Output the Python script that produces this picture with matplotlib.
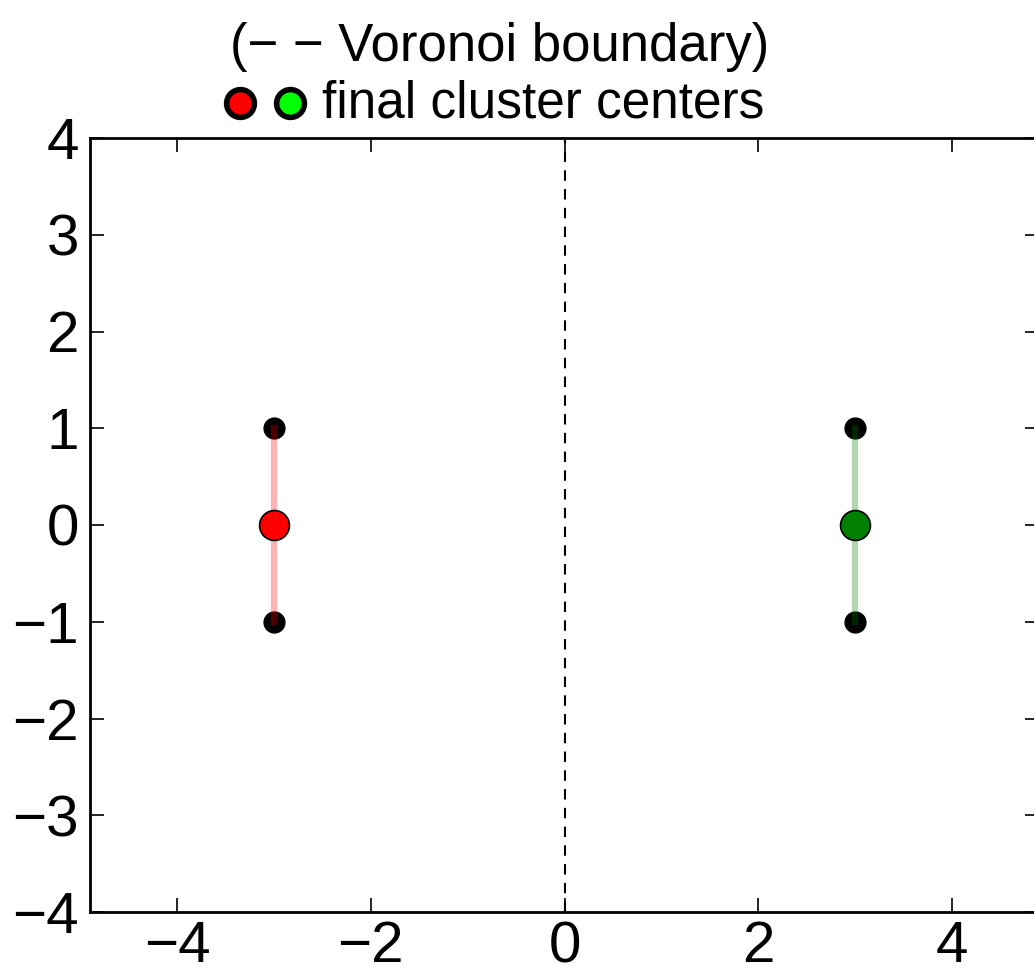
import matplotlib
matplotlib.use("Agg")
import matplotlib.pyplot as plt

# data
points_x = [-3, -3, 3, 3]
points_y = [1, -1, 1, -1]
center_x = [-3, 3]
center_y = [0, 0]
center_colors = ["red", "green"]
xticks = [-4, -2, 0, 2, 4]
yticks = [-4, -3, -2, -1, 0, 1, 2, 3, 4]
title_line1 = "(\u2212 \u2212 Voronoi boundary)"
title_line2 = "final cluster centers"

W, H = 1034, 972
fig = plt.figure(figsize=(W / 100, H / 100), dpi=100)
ax = fig.add_axes([90 / W, 60 / H, (1039 - 90) / W, (912 - 138) / H])

# Voronoi boundary
ax.axvline(0, color="black", linestyle="--", linewidth=1.5, dashes=(5, 4))

# data points
ax.plot(points_x, points_y, "o", color="black", markersize=15, zorder=2)

# lines from centers to points
for cx, cy, c in zip(center_x, center_y, center_colors):
    for px, py in zip(points_x, points_y):
        if px == cx:
            ax.plot([cx, px], [cy, py], color=c, alpha=0.3, linewidth=4.5, zorder=3)
    ax.plot([cx], [cy], "o", markerfacecolor=c, markeredgecolor="black",
            markeredgewidth=1.2, markersize=21.5, zorder=4)

ax.set_xlim(-4.9, 4.9)
ax.set_ylim(-4, 4)
ax.set_xticks(xticks)
ax.set_yticks(yticks)
ax.set_xticklabels([f"{t}".replace("-", "\u2212") for t in xticks])
ax.set_yticklabels([f"{t}".replace("-", "\u2212") for t in yticks])
ax.tick_params(direction="in", length=10, width=1.2, top=True, right=True,
               labelsize=42, pad=8)
ax.tick_params(axis="x", pad=6)
for lab in ax.get_xticklabels() + ax.get_yticklabels():
    lab.set_family(["Liberation Sans", "DejaVu Sans"])
for s in ax.spines.values():
    s.set_linewidth(2)

tfam = ["Liberation Sans", "DejaVu Sans"]
fig.text(500 / W, 1 - 47 / H, title_line1, ha="center", va="center",
         fontsize=38, family=tfam)
fig.text(322 / W, 1 - 104 / H, title_line2, ha="left", va="center",
         fontsize=37, family=tfam)
fig.lines.append(plt.Line2D([240 / W], [1 - 103 / H], marker="o", markersize=20,
                            markerfacecolor="red", markeredgecolor="black",
                            markeredgewidth=4, transform=fig.transFigure))
fig.lines.append(plt.Line2D([290 / W], [1 - 103 / H], marker="o", markersize=20,
                            markerfacecolor="lime", markeredgecolor="black",
                            markeredgewidth=4, transform=fig.transFigure))

fig.savefig("out.png", dpi=100)
